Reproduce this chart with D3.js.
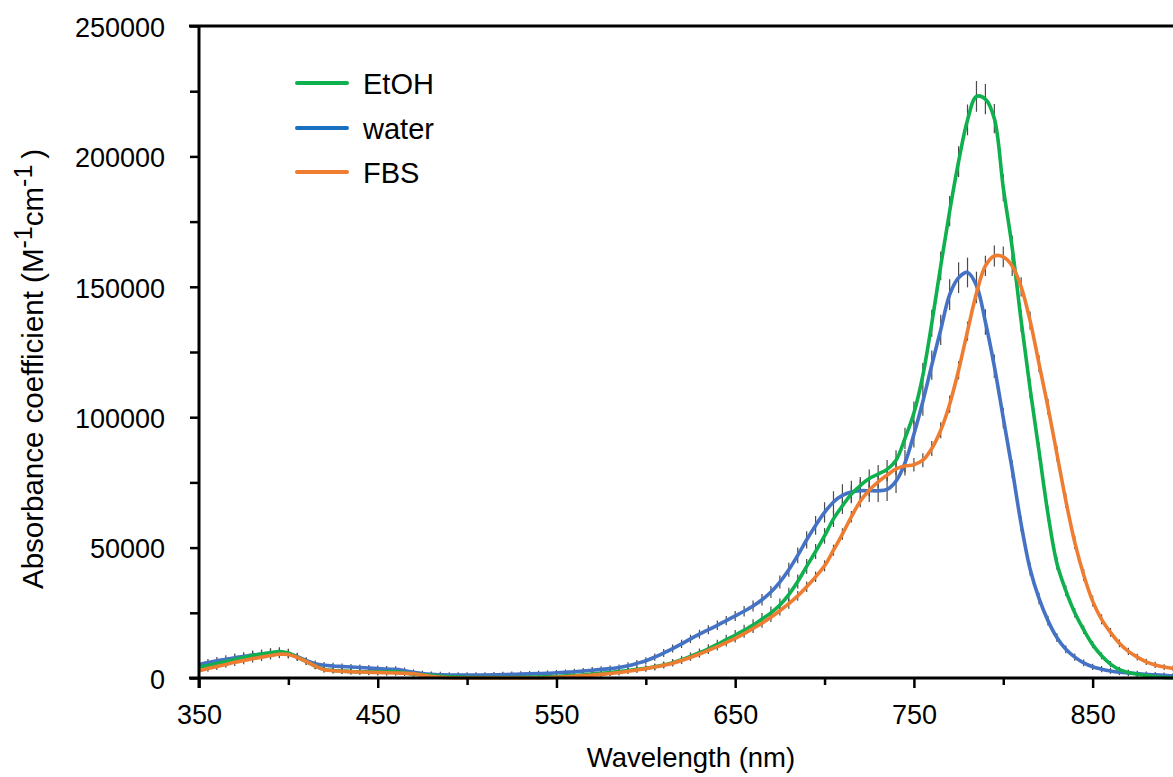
<!DOCTYPE html>
<html>
<head>
<meta charset="utf-8">
<script src="https://cdn.jsdelivr.net/npm/d3@7/dist/d3.min.js"></script>
<style>
  html, body { margin: 0; padding: 0; background: #fff; }
  svg { display: block; }
  text { font-family: "Liberation Sans", Arial, Helvetica, sans-serif; fill: #000; }
</style>
</head>
<body>
<svg id="chart" width="1173" height="777"></svg>
<script>
// Absorption spectra, sampled every 5 nm from 350 to 900 nm
const wlStart = 350, wlStep = 5;

const seriesNames = ["EtOH", "water", "FBS"];

// Absorbance coefficient (M^-1 cm^-1)
const water = [
  5200, 5900, 6600, 7200, 7800, 8300, 8800, 9200, 9500, 9700,
  9300, 8200, 6700, 5500, 4900, 4600, 4400, 4200, 4000, 3800,
  3600, 3400, 3300, 2800, 2200, 1700, 1400, 1250, 1150, 1100,
  1100, 1100, 1150, 1200, 1300, 1400, 1500, 1600, 1700, 1800,
  2000, 2200, 2400, 2700, 3000, 3300, 3600, 4000, 4700, 5600,
  6600, 8000, 9600, 11300, 13100, 15000, 16800, 18500, 20200, 22000,
  23800, 25600, 27600, 30000, 33000, 36800, 41500, 47000, 53000, 58500,
  63500, 67500, 70000, 71300, 71800, 71800, 71800, 72300, 75500, 82500,
  93500, 106000, 120000, 133500, 147000, 153500, 155500, 150500, 136500, 119500,
  99700, 80000, 59000, 41800, 30500, 22000, 15500, 11000, 8000, 5800,
  4300, 3400, 2700, 2200, 1900, 1700, 1400, 1200, 1000, 800,
  700
];
const etoh = [
  4100, 4800, 5600, 6300, 7100, 7900, 8600, 9200, 9700, 10100,
  9600, 8000, 6300, 4600, 3300, 2900, 2700, 2500, 2400, 2400,
  2400, 2400, 2400, 2000, 1500, 1200, 1000, 700, 500, 400,
  300, 200, 200, 200, 200, 200, 250, 300, 400, 500,
  600, 800, 1000, 1200, 1500, 1800, 2100, 2500, 2900, 3300,
  3700, 4300, 5000, 5900, 7000, 8300, 9700, 11200, 12900, 14700,
  16400, 18300, 20300, 22600, 25000, 28000, 32000, 37000, 42800, 48500,
  54500, 61000, 66000, 70500, 73800, 76500, 78200, 80000, 83500, 91900,
  101600, 116000, 136000, 158000, 179000, 198000, 214000, 223000, 222000, 214500,
  188000, 165000, 137000, 111000, 87000, 63000, 44000, 33500, 25000, 18500,
  12800, 8500, 5300, 3200, 2100, 1400, 900, 500, 250, 100,
  0
];
const fbs = [
  2800, 3600, 4400, 5200, 6000, 6700, 7400, 8000, 8600, 9100,
  9000, 7900, 6300, 4600, 3200, 2800, 2600, 2400, 2300, 2200,
  2100, 2000, 1900, 1800, 1600, 1100, 600, 300, 100, 0,
  0, 0, 0, 0, 0, 0, 0, 0, 0, 100,
  300, 500, 700, 900, 1100, 1400, 1700, 2100, 2600, 3100,
  3600, 4200, 4900, 5700, 6700, 7900, 9200, 10600, 12000, 13600,
  15200, 17000, 19000, 21000, 23300, 25800, 28500, 31500, 35000, 38800,
  43000, 49000, 55200, 61800, 67800, 72000, 75200, 77800, 80200, 81300,
  81800, 83500, 88000, 95000, 105000, 118000, 133000, 147500, 158000, 161800,
  161500, 158000, 150000, 137000, 120500, 104000, 86000, 68000, 52000, 39500,
  29500, 22500, 17500, 13300, 10200, 8000, 6200, 5000, 4200, 3700,
  3300
];

// Standard deviations for the error bars
const waterErr = [
  1400, 1400, 1500, 1500, 1600, 1600, 1700, 1700, 1800, 1800,
  1700, 1500, 1300, 1200, 1200, 1200, 1200, 1200, 1200, 1200,
  1200, 1200, 1200, 1200, 1100, 1100, 1100, 1100, 1100, 1100,
  1100, 1100, 1100, 1100, 1100, 1100, 1100, 1100, 1100, 1100,
  1100, 1100, 1100, 1100, 1200, 1200, 1200, 1200, 1300, 1300,
  1400, 1400, 1500, 1500, 1600, 1600, 1700, 1700, 1800, 1800,
  1900, 2000, 2100, 2200, 2300, 2500, 2700, 3000, 3300, 3600,
  3900, 4100, 4300, 4300, 4300, 4300, 4300, 4400, 4600, 4900,
  5100, 5400, 5600, 5800, 5900, 5900, 5700, 5300, 4900, 4500,
  3900, 3400, 2900, 2500, 2200, 1900, 1700, 1500, 1400, 1300,
  1200, 1200, 1100, 1100, 1100, 1100, 1100, 1100, 1100, 1100,
  1100
];
const etohErr = [
  1300, 1300, 1400, 1400, 1500, 1500, 1600, 1600, 1700, 1700,
  1600, 1400, 1300, 1200, 1100, 1100, 1100, 1100, 1100, 1100,
  1100, 1100, 1100, 1100, 1000, 1000, 1000, 1000, 1000, 1000,
  1000, 1000, 1000, 1000, 1000, 1000, 1000, 1000, 1000, 1000,
  1000, 1000, 1000, 1000, 1000, 1000, 1100, 1100, 1100, 1200,
  1200, 1300, 1300, 1400, 1500, 1500, 1600, 1700, 1800, 1900,
  2000, 2100, 2200, 2300, 2400, 2500, 2600, 2700, 2800, 2900,
  3000, 3100, 3100, 3200, 3300, 3400, 3500, 3600, 3800, 4100,
  4400, 4800, 5200, 5500, 5800, 5900, 5900, 5900, 5800, 5600,
  5200, 4700, 4200, 3700, 3300, 2900, 2500, 2100, 1800, 1600,
  1400, 1300, 1200, 1100, 1100, 1000, 1000, 1000, 1000, 1000,
  1000
];
const fbsErr = [
  1200, 1200, 1300, 1300, 1400, 1400, 1500, 1500, 1500, 1500,
  1400, 1300, 1200, 1100, 1100, 1100, 1100, 1100, 1100, 1100,
  1100, 1100, 1000, 1000, 1000, 1000, 1000, 1000, 1000, 1000,
  1000, 1000, 1000, 1000, 1000, 1000, 1000, 1000, 1000, 1000,
  1000, 1000, 1000, 1000, 1000, 1000, 1000, 1100, 1100, 1100,
  1100, 1200, 1200, 1200, 1300, 1300, 1400, 1400, 1500, 1500,
  1600, 1600, 1700, 1700, 1800, 1800, 1900, 1900, 2000, 2000,
  2100, 2100, 2200, 2200, 2300, 2300, 2400, 2400, 2500, 2500,
  2600, 2700, 2900, 3100, 3300, 3500, 3700, 3800, 3900, 4000,
  4000, 3900, 3700, 3500, 3300, 3100, 2900, 2700, 2500, 2300,
  2100, 1900, 1700, 1500, 1400, 1300, 1200, 1200, 1100, 1100,
  1100
];

const xMajorTicks = [350, 450, 550, 650, 750, 850];
const xMinorTicks = [400, 500, 600, 700, 800, 900];
const yMajorTicks = [0, 50000, 100000, 150000, 200000, 250000];
const yMinorTicks = [25000, 75000, 125000, 175000, 225000];

const wavelengths = water.map((_, i) => wlStart + i * wlStep);

const series = [
  { name: "water", values: water, err: waterErr, color: "#4472c4", legend: "#1a6fc0" },
  { name: "EtOH",  values: etoh,  err: etohErr,  color: "#0fb04e", legend: "#0fb04e" },
  { name: "FBS",   values: fbs,   err: fbsErr,   color: "#ee7d31", legend: "#ee7d31" }
];

const svg = d3.select("#chart");
const x = d3.scaleLinear().domain([350, 900]).range([199, 1182]);
const y = d3.scaleLinear().domain([0, 250000]).range([678, 26]);

// Error bars (drawn under the curves)
const errG = svg.append("g").attr("stroke", "#4a4a4a").attr("stroke-width", 1.2);
series.forEach(s => {
  errG.selectAll(null)
    .data(s.values.map((v, i) => ({ wl: wavelengths[i], v, e: s.err[i] })))
    .join("line")
    .attr("x1", d => x(d.wl)).attr("x2", d => x(d.wl))
    .attr("y1", d => Math.min(y(d.v - d.e), y(0) - 1)).attr("y2", d => y(d.v + d.e));
});

// Spectra
const line = d3.line()
  .x((d, i) => x(wavelengths[i]))
  .y(d => y(d))
  .curve(d3.curveCatmullRom.alpha(0.5));

series.forEach(s => {
  svg.append("path")
    .datum(s.values)
    .attr("fill", "none")
    .attr("stroke", s.color)
    .attr("stroke-width", 3.6)
    .attr("stroke-linejoin", "round")
    .attr("d", line);
});

// X axis
const fontSize = 27;
const xAxis = svg.append("g").attr("transform", "translate(0,678)");
xAxis.call(d3.axisBottom(x).tickValues(xMajorTicks).tickSize(10).tickSizeOuter(0)
  .tickPadding(17).tickFormat(d3.format("d")));
xAxis.select(".domain").remove();
xAxis.selectAll(".tick line").attr("stroke", "#000").attr("stroke-width", 2.5);
xAxis.selectAll(".tick text").attr("font-size", fontSize).attr("font-family", null);

const xMinor = svg.append("g").attr("transform", "translate(0,678)");
xMinor.call(d3.axisBottom(x).tickValues(xMinorTicks).tickSize(7).tickFormat(""));
xMinor.select(".domain").remove();
xMinor.selectAll(".tick line").attr("stroke", "#000").attr("stroke-width", 2.5);

// Y axis
const yAxis = svg.append("g").attr("transform", "translate(199,0)");
yAxis.call(d3.axisLeft(y).tickValues(yMajorTicks).tickSize(9).tickSizeOuter(0)
  .tickPadding(25).tickFormat(d3.format("d")));
yAxis.select(".domain").remove();
yAxis.selectAll(".tick line").attr("stroke", "#000").attr("stroke-width", 2.5);
yAxis.selectAll(".tick text").attr("font-size", fontSize).attr("font-family", null).attr("dy", "0.38em");

const yMinor = svg.append("g").attr("transform", "translate(199,0)");
yMinor.call(d3.axisLeft(y).tickValues(yMinorTicks).tickSize(9).tickFormat(""));
yMinor.select(".domain").remove();
yMinor.selectAll(".tick line").attr("stroke", "#000").attr("stroke-width", 2.5);

// Axis lines and top border
svg.append("line").attr("x1", 189).attr("x2", 1173).attr("y1", y(0)).attr("y2", y(0))
  .attr("stroke", "#000").attr("stroke-width", 3);
svg.append("line").attr("x1", 199).attr("x2", 199).attr("y1", y(250000)).attr("y2", 688)
  .attr("stroke", "#000").attr("stroke-width", 3);
svg.append("line").attr("x1", 189).attr("x2", 1173).attr("y1", y(250000)).attr("y2", y(250000))
  .attr("stroke", "#000").attr("stroke-width", 3);

// Axis titles
svg.append("text")
  .attr("x", 691).attr("y", 767)
  .attr("text-anchor", "middle")
  .attr("font-size", 27.5)
  .text("Wavelength (nm)");

const yTitle = svg.append("text")
  .attr("transform", "translate(43,369) rotate(-90)")
  .attr("text-anchor", "middle")
  .attr("font-size", 29.5);
yTitle.append("tspan").text("Absorbance coefficient (M");
yTitle.append("tspan").attr("font-size", 25).attr("dy", -11).text("-1");
yTitle.append("tspan").attr("dy", 11).text("cm");
yTitle.append("tspan").attr("font-size", 25).attr("dy", -11).text("-1");
yTitle.append("tspan").attr("dy", 11).text("\u2009)");

// Legend
const legendOrder = ["EtOH", "water", "FBS"];
const legendY = [83, 128, 172];
const legend = svg.append("g");
legendOrder.forEach((name, i) => {
  const s = series.find(d => d.name === name);
  legend.append("line")
    .attr("x1", 297).attr("x2", 347)
    .attr("y1", legendY[i]).attr("y2", legendY[i])
    .attr("stroke", s.legend).attr("stroke-width", 4).attr("stroke-linecap", "round");
  legend.append("text")
    .attr("x", 363).attr("y", legendY[i] + 11)
    .attr("font-size", 29)
    .text(name);
});
</script>
</body>
</html>
